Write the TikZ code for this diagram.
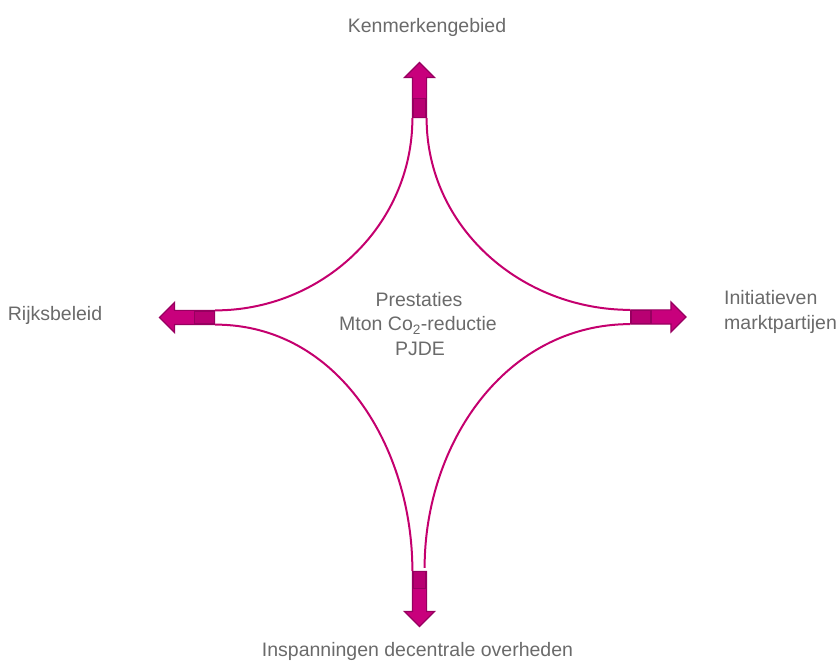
\documentclass[tikz,border=0pt]{standalone}
\usepackage{fontspec}
\setmainfont{Liberation Sans}
\usetikzlibrary{shapes.arrows}
\definecolor{pjmag}{HTML}{C8007C}
\definecolor{pjdark}{HTML}{970060}
\definecolor{pjline}{HTML}{C4006E}
\definecolor{pjtext}{HTML}{6A6A6A}
\begin{document}
\begin{tikzpicture}
		[x=1pt,y=1pt,
		pijl/.style={single arrow,draw=pjdark,fill=pjmag,line width=1.2pt,
			minimum width=29pt,minimum height=55pt,inner sep=6.5pt,
			single arrow head extend=8pt},
		voet/.style={draw=pjdark,fill=pjmag!92!black,line width=1.2pt,inner sep=0pt},
		boog/.style={draw=pjline,line width=2pt},
		label/.style={text=pjtext,font=\fontsize{19.5}{24.5}\selectfont,inner sep=0pt}]
		\useasboundingbox (0,0) rectangle (839,664);
		% pijlen
		\node[pijl,shape border rotate=90] (boven) at (419.5,570.5) {};
		\node[pijl,shape border rotate=180] (links) at (190.5,346.5) {};
		\node[pijl,shape border rotate=0] (rechts) at (655,347) {};
		\node[pijl,shape border rotate=270] (onder) at (419.5,68.5) {};
		\node[voet,minimum width=13pt,minimum height=19pt,anchor=south] (bovenvoet) at (boven.tail) {};
		\node[voet,minimum width=20pt,minimum height=13pt,anchor=east] (linksvoet) at (links.tail) {};
		\node[voet,minimum width=20pt,minimum height=13pt,anchor=west] (rechtsvoet) at (rechts.tail) {};
		\node[voet,minimum width=13pt,minimum height=17pt,anchor=north] (ondervoet) at (onder.tail) {};
		% bogen
		\draw[boog] (bovenvoet.south west) to[out=-90,in=0] (linksvoet.north east);
		\draw[boog] (bovenvoet.south east) to[out=-90,in=180] (rechtsvoet.north west);
		\draw[boog] (linksvoet.south east) to[out=0,in=90] (ondervoet.north west);
		\draw[boog] (rechtsvoet.south west) to[out=180,in=90] ([xshift=-2pt,yshift=3pt]ondervoet.north east);
		% teksten
		\node[label,anchor=base] (kenmerk) at (427,631.7) {Kenmerkengebied};
		\node[label,anchor=base] (rijk) at (55,343) {Rijksbeleid};
		\node[label,anchor=base west] (markt) at (724,359) {Initiatieven};
		\node[label,anchor=base west] (markt2) at (724,334) {marktpartijen};
		\node[label,anchor=base] (decentraal) at (417.5,7) {Inspanningen decentrale overheden};
		\node[label,anchor=base] (prestatie) at (419,357) {Prestaties};
		\node[label,anchor=base] (mton) at (418,333) {Mton Co\textsubscript{2}-reductie};
		\node[label,anchor=base] (pjde) at (420,308) {PJDE};
	\end{tikzpicture}
\end{document}
